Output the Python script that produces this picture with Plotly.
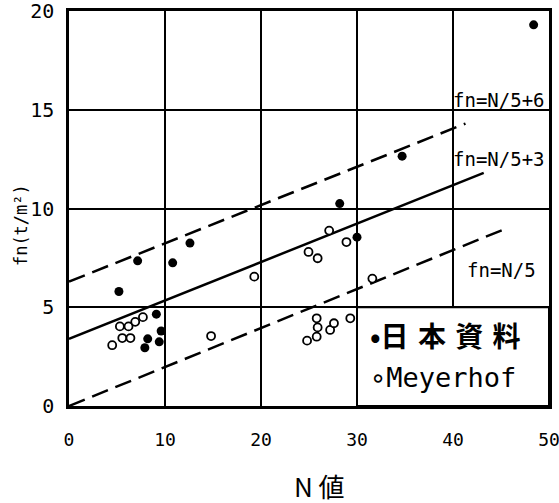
import plotly.graph_objects as go

# Data
japan_n = [48.4, 34.7, 28.2, 30.0, 12.6, 7.15, 10.8, 5.2, 9.1, 9.6, 9.4, 8.2, 7.9]
japan_fn = [19.3, 12.65, 10.25, 8.55, 8.25, 7.35, 7.25, 5.8, 4.65, 3.8, 3.25, 3.4, 2.95]

meyer_n = [4.5, 5.55, 6.4, 5.3, 6.2, 6.9, 7.7, 14.8, 19.3, 24.95, 25.9, 27.1, 28.9,
           31.6, 25.8, 25.9, 25.8, 24.8, 27.2, 27.6, 29.3]
meyer_fn = [3.08, 3.44, 3.44, 4.03, 4.03, 4.26, 4.5, 3.54, 6.55, 7.8, 7.48, 8.88, 8.3,
            6.45, 4.44, 3.98, 3.51, 3.31, 3.85, 4.19, 4.44]

upper_n = [0, 41.3]
upper_fn = [6.3, 14.3]
mid_n = [0, 43.2]
mid_fn = [3.4, 11.8]
lower_n = [0, 45.6]
lower_fn = [0.0, 9.0]

x_ticks = [0, 10, 20, 30, 40, 50]
y_ticks = [0, 5, 10, 15, 20]

label_upper = "fn=N/5+6"
label_mid = "fn=N/5+3"
label_lower = "fn=N/5"
legend_japan = "•日\u2004本\u2004資\u2004料"
legend_meyer = "∘Meyerhof"
x_title = "N 値"
y_title = "fn(t/m²)"

MONO = "DejaVu Sans Mono, monospace"
CJK = "Noto Sans CJK JP, DejaVu Sans Mono, sans-serif"

fig = go.Figure()
fig.add_trace(go.Scatter(x=upper_n, y=upper_fn, mode="lines",
                         line=dict(color="black", width=2.5, dash="17px,8px"),
                         hoverinfo="skip", showlegend=False))
fig.add_trace(go.Scatter(x=mid_n, y=mid_fn, mode="lines",
                         line=dict(color="black", width=2.5),
                         hoverinfo="skip", showlegend=False))
fig.add_trace(go.Scatter(x=lower_n, y=lower_fn, mode="lines",
                         line=dict(color="black", width=2.5, dash="17px,8px"),
                         hoverinfo="skip", showlegend=False))
fig.add_trace(go.Scatter(x=japan_n, y=japan_fn, mode="markers",
                         marker=dict(color="black", size=9, symbol="circle"),
                         name="日本資料", showlegend=False))
fig.add_trace(go.Scatter(x=meyer_n, y=meyer_fn, mode="markers",
                         marker=dict(color="white", size=8, symbol="circle",
                                     line=dict(color="black", width=1.8)),
                         name="Meyerhof", showlegend=False))

# legend box
fig.add_shape(type="rect", xref="x", yref="y", x0=30, x1=50, y0=0, y1=5,
              fillcolor="white", line=dict(color="black", width=2), layer="between")

ann = [
    dict(x=50, y=15.5, text=label_upper, xanchor="right", yanchor="middle", xshift=-2,
         font=dict(family=MONO, size=19, color="black")),
    dict(x=50, y=12.5, text=label_mid, xanchor="right", yanchor="middle", xshift=-2,
         font=dict(family=MONO, size=19, color="black")),
    dict(x=48.9, y=6.9, text=label_lower, xanchor="right", yanchor="middle",
         font=dict(family=MONO, size=19, color="black")),
    dict(x=31.1, y=3.6, text=legend_japan, xanchor="left", yanchor="middle",
         font=dict(family=CJK, size=28, color="black", weight="bold")),
    dict(x=31.1, y=1.42, text=legend_meyer, xanchor="left", yanchor="middle",
         font=dict(family=MONO, size=27, color="black")),
    dict(xref="paper", yref="paper", x=0.521, y=-0.2025, text=x_title,
         xanchor="center", yanchor="middle", showarrow=False,
         font=dict(family=CJK, size=26, color="black")),
    dict(xref="paper", yref="paper", x=-0.1, y=0.458, text=y_title, textangle=-90,
         xanchor="center", yanchor="middle", showarrow=False,
         font=dict(family=MONO, size=17, color="black")),
]
for a in ann:
    a.setdefault("showarrow", False)
    fig.add_annotation(**a)

fig.update_layout(
    width=559, height=503,
    margin=dict(l=69, r=10, t=11, b=97, autoexpand=False),
    paper_bgcolor="white", plot_bgcolor="white",
    showlegend=False,
)
fig.update_xaxes(range=[0, 50], tickvals=x_ticks, ticktext=[str(v) for v in x_ticks],
                 showgrid=True, gridcolor="black", gridwidth=2, automargin=False,
                 showline=True, linecolor="black", linewidth=2.5, mirror=True,
                 zeroline=False, ticks="", ticklabelstandoff=16, ticklabeloverflow="allow",
                 tickfont=dict(family=MONO, size=18, color="black"))
fig.update_yaxes(range=[0, 20], tickvals=y_ticks, ticktext=[str(v) for v in y_ticks],
                 showgrid=True, gridcolor="black", gridwidth=2, automargin=False,
                 showline=True, linecolor="black", linewidth=2.5, mirror=True,
                 zeroline=False, ticks="", ticklabelstandoff=8, ticklabeloverflow="allow",
                 tickfont=dict(family=MONO, size=20, color="black"))

fig.write_html(
    "out.html",
    config={"displayModeBar": False},
    post_script="document.body.style.margin='0';document.body.style.padding='0';"
                "document.body.style.overflow='hidden';",
)
